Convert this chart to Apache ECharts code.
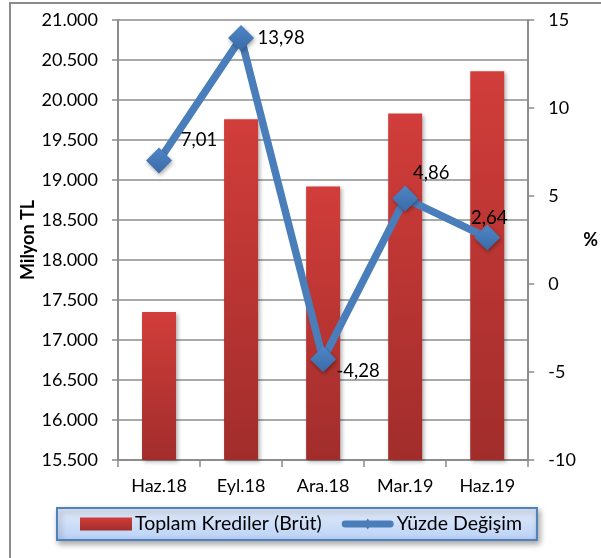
<!DOCTYPE html>
<html>
<head>
<meta charset="utf-8">
<script src="https://cdn.jsdelivr.net/npm/echarts@6/dist/echarts.min.js"></script>
<style>
  html, body { margin: 0; padding: 0; background: #fff; }
  #wrap { position: relative; width: 601px; height: 558px; overflow: hidden; }
  #frame { position: absolute; left: 9px; top: 2px; width: 700px; height: 700px;
           border-left: 2px solid #8c8c8c; border-top: 2px solid #8c8c8c; }
  #chart { position: absolute; left: 0; top: 0; width: 601px; height: 558px; }
</style>
</head>
<body>
<div id="wrap">
  <div id="frame"></div>
  <div id="chart"></div>
</div>
<script>
  'use strict'

  // data
  var categories = ['Haz.18', 'Eyl.18', 'Ara.18', 'Mar.19', 'Haz.19'];
  var krediler = [17350, 19760, 18920, 19830, 20360];
  var yuzde = [7.01, 13.98, -4.28, 4.86, 2.64];
  var labelOffsets = [[40, -21], [40, 0], [35, 12], [26, -25], [2, -20]];

  var FONT = 'Lato';
  var FS = 18;

  function fmtThousands(v) {
    var s = String(Math.round(v));
    return s.replace(/\B(?=(\d{3})+(?!\d))/g, '.');
  }

  var lineData = yuzde.map(function (v, i) {
    return {
      value: v,
      label: { offset: labelOffsets[i] }
    };
  });

  // thick rounded line with a small diamond, like the legend key
  var lineIcon = 'path://M3,3 L49,3 A3.5,3.5 0 0 1 49,10 L3,10 A3.5,3.5 0 0 1 3,3 Z M26,1 L30,6.5 L26,12 L22,6.5 Z';

  var chart = echarts.init(document.getElementById('chart'));

  var option = {
    animation: false,
    textStyle: { fontFamily: FONT },
    grid: { left: 118, right: 68, top: 20, bottom: 98 },
    legend: {
      left: 57,
      top: 508,
      padding: [6, 15, 6, 23],
      itemGap: 20,
      itemWidth: 52,
      itemHeight: 13,
      borderColor: '#4f81bd',
      borderWidth: 2,
      backgroundColor: new echarts.graphic.LinearGradient(0, 0, 0, 1, [
        { offset: 0, color: '#e4edfb' },
        { offset: 1, color: '#b9d0f5' }
      ]),
      shadowBlur: 6,
      shadowOffsetX: 2,
      shadowOffsetY: 3,
      shadowColor: 'rgba(0,0,0,0.35)',
      textStyle: { fontSize: 19.5, color: '#000', fontFamily: FONT, padding: [0, 0, 0, -2] },
      data: [
        { name: 'Toplam Krediler (Brüt)', icon: 'rect' },
        { name: 'Yüzde Değişim', icon: lineIcon, itemStyle: { color: '#4a7ebb' } }
      ]
    },
    xAxis: {
      type: 'category',
      data: categories,
      axisLine: { onZero: false, lineStyle: { color: '#8c8c8c', width: 2 } },
      axisTick: { show: true, length: 7, lineStyle: { color: '#8c8c8c', width: 1.5 } },
      axisLabel: { fontSize: FS, color: '#000', margin: 17 }
    },
    yAxis: [
      {
        type: 'value',
        min: 15500,
        max: 21000,
        interval: 500,
        name: 'Milyon TL',
        nameLocation: 'middle',
        nameRotate: 90,
        nameGap: 81,
        nameMoveOverlap: false,
        nameTextStyle: { fontSize: FS, fontWeight: 'bold', color: '#000' },
        axisLine: { show: true, lineStyle: { color: '#8c8c8c', width: 2 } },
        axisTick: { show: true, length: 6, lineStyle: { color: '#8c8c8c', width: 1.5 } },
        splitLine: { lineStyle: { color: '#8c8c8c', width: 1.5 } },
        axisLabel: { fontSize: FS, color: '#000', margin: 20, formatter: fmtThousands }
      },
      {
        type: 'value',
        min: -10,
        max: 15,
        interval: 5,
        name: '%',
        nameLocation: 'middle',
        nameRotate: 0,
        nameGap: 55,
        nameMoveOverlap: false,
        nameTextStyle: { fontSize: FS, fontWeight: 'bold', color: '#000' },
        axisLine: { show: true, lineStyle: { color: '#8c8c8c', width: 2 } },
        axisTick: { show: true, length: 6, lineStyle: { color: '#8c8c8c', width: 1.5 } },
        splitLine: { show: false },
        axisLabel: { fontSize: FS, color: '#000', margin: 20 }
      }
    ],
    series: [
      {
        name: 'Toplam Krediler (Brüt)',
        type: 'bar',
        yAxisIndex: 0,
        barWidth: 34,
        data: krediler,
        itemStyle: {
          color: new echarts.graphic.LinearGradient(0, 0, 0, 1, [
            { offset: 0, color: '#d13d3a' },
            { offset: 1, color: '#a12d2b' }
          ]),
          shadowBlur: 4,
          shadowOffsetX: 2,
          shadowOffsetY: 2,
          shadowColor: 'rgba(0,0,0,0.3)'
        }
      },
      {
        name: 'Yüzde Değişim',
        type: 'line',
        yAxisIndex: 1,
        data: lineData,
        symbol: 'diamond',
        symbolSize: 26,
        lineStyle: { color: '#4a7ebb', width: 7.5 },
        itemStyle: {
          color: new echarts.graphic.LinearGradient(0, 0, 0, 1, [
            { offset: 0, color: '#4f86c6' },
            { offset: 1, color: '#3a6aa8' }
          ]),
          shadowBlur: 4,
          shadowOffsetX: 1,
          shadowOffsetY: 2,
          shadowColor: 'rgba(0,0,0,0.35)'
        },
        label: {
          show: true,
          position: 'inside',
          fontSize: 18.5,
          color: '#000',
          formatter: function (p) { return p.value.toFixed(2).replace('.', ','); }
        },
        z: 5
      }
    ]
  };

  chart.setOption(option);
</script>
</body>
</html>
